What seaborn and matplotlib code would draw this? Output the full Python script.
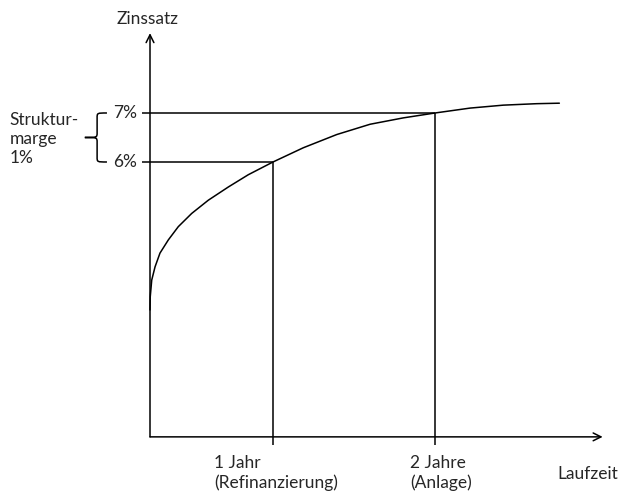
import numpy as np
import pandas as pd
import matplotlib.pyplot as plt
from matplotlib.path import Path
from matplotlib.patches import PathPatch
import seaborn as sns

# Zinsstrukturkurve (schematisch)
laufzeit = [0.0, 0.002, 0.014, 0.041, 0.081, 0.149, 0.230, 0.339, 0.474, 0.637,
            0.799, 1.0, 1.246, 1.518, 1.789, 2.059, 2.317, 2.602, 2.872, 3.144,
            3.328]
zinssatz = [2.98, 3.25, 3.59, 3.86, 4.14, 4.41, 4.68, 4.95, 5.22, 5.49,
            5.74, 6.0, 6.29, 6.56, 6.77, 6.90, 7.0, 7.10, 7.16, 7.19,
            7.20]

# markierte Laufzeiten und Zinssätze
marken_x = [1.0, 2.317]
marken_y = [6.0, 7.0]
marken_text = ["1 Jahr\n(Refinanzierung)", "2 Jahre\n(Anlage)"]
zins_text = ["6%", "7%"]
text_versatz = [-0.48, -0.20]

df = pd.DataFrame({"Laufzeit": laufzeit, "Zinssatz": zinssatz})

sns.set_style("white")
plt.rcParams["font.family"] = ["Lato", "DejaVu Sans"]

fig = plt.figure(figsize=(6.2, 4.94), dpi=100)
ax = fig.add_axes([0, 0, 1, 1])
ax.set_xlim(-1.2195, 3.821)
ax.set_ylim(-0.776, 9.306)
ax.axis("off")

lw = 1.1
fs = 12.5
y0 = 0.39  # Höhe der x-Achse

# Achsen mit Pfeilen
ax.annotate("", xy=(3.68, y0), xytext=(0, y0),
            arrowprops=dict(arrowstyle="->", lw=lw, color="black",
                            shrinkA=0, shrinkB=0, mutation_scale=14))
ax.annotate("", xy=(0, 8.63), xytext=(0, y0),
            arrowprops=dict(arrowstyle="->", lw=lw, color="black",
                            shrinkA=0, shrinkB=0, mutation_scale=14))

# Kurve
sns.lineplot(data=df, x="Laufzeit", y="Zinssatz", ax=ax, color="black",
             lw=lw, sort=False)

# Hilfslinien
ax.hlines(marken_y, -0.065, marken_x, color="black", lw=lw)
ax.vlines(marken_x, 0.224, marken_y, color="black", lw=lw)

# Beschriftungen
for yv, t in zip(marken_y, zins_text):
    ax.text(-0.105, yv, t, ha="right", va="center", fontsize=fs)
for xv, dx, t in zip(marken_x, text_versatz, marken_text):
    ax.text(xv + dx, -0.34, t, ha="left", va="center", fontsize=fs,
            linespacing=1.25)

ax.text(-0.016, 8.91, "Zinssatz", ha="center", va="center", fontsize=fs)
ax.text(3.56, -0.36, "Laufzeit", ha="center", va="center", fontsize=fs)
ax.text(-1.14, 6.47, "Struktur-\nmarge\n1%", ha="left", va="center",
        fontsize=fs, linespacing=1.25)

# geschweifte Klammer zwischen 6% und 7%
bx, bt = -0.43, -0.35
verts = [(bt, 7.0), (bx, 7.0), (bx, 7.0), (bx, 6.9),
         (bx, 6.6),
         (bx, 6.5), (bx, 6.5), (-0.53, 6.5),
         (bx, 6.5), (bx, 6.5), (bx, 6.4),
         (bx, 6.1),
         (bx, 6.0), (bx, 6.0), (bt, 6.0)]
codes = [Path.MOVETO, Path.CURVE4, Path.CURVE4, Path.CURVE4,
         Path.LINETO,
         Path.CURVE4, Path.CURVE4, Path.CURVE4,
         Path.CURVE4, Path.CURVE4, Path.CURVE4,
         Path.LINETO,
         Path.CURVE4, Path.CURVE4, Path.CURVE4]
ax.add_patch(PathPatch(Path(verts, codes), fill=False, lw=lw, color="black"))

fig.savefig("out.png", dpi=100)
